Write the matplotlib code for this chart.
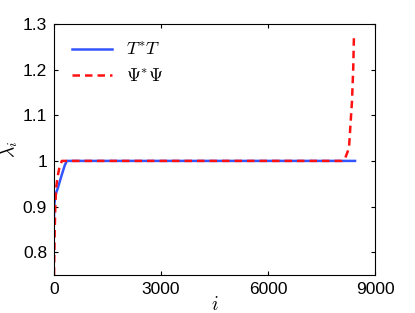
import numpy as np
import matplotlib
matplotlib.use('Agg')
import matplotlib.pyplot as plt

plt.rcParams['font.family'] = ['Liberation Sans', 'DejaVu Sans']
plt.rcParams['mathtext.fontset'] = 'cm'

# T*T eigenvalues (blue)
t_idx = [0, 10, 30, 60, 110, 200, 300, 360, 1000, 4000, 8440]
t_val = [0.879, 0.905, 0.92, 0.93, 0.941, 0.965, 0.99, 1.0, 1.0, 1.0, 1.0]

# Psi*Psi eigenvalues (red)
p_idx = [0, 10, 20, 40, 60, 100, 150, 220, 1000, 4000, 8075, 8160, 8270, 8355, 8390, 8411]
p_val = [0.75, 0.80, 0.85, 0.91, 0.94, 0.965, 0.985, 1.0, 1.0, 1.0, 1.0, 1.005, 1.028, 1.131, 1.204, 1.278]

fig = plt.figure(figsize=(4.15, 3.13), dpi=100)
ax = fig.add_axes([54/415, 38/313, 321/415, 251/313])

ax.plot(t_idx, t_val, color='#3355ff', linewidth=1.8, label=r'$T^{*}T$')
ax.plot(p_idx, p_val, color='#ff1111', linewidth=1.8, linestyle=(0, (3, 2)), label=r'$\Psi^{*}\Psi$')

ax.set_xlim(0, 9000)
ax.set_ylim(0.75, 1.3)
ax.set_xticks([0, 3000, 6000, 9000])
ax.set_yticks([0.8, 0.9, 1.0, 1.1, 1.2, 1.3])
ax.set_yticklabels(['0.8', '0.9', '1', '1.1', '1.2', '1.3'])
ax.tick_params(direction='in', top=True, right=True, labelsize=12.5, length=3, pad=5)

ax.set_xlabel(r'$i$', fontsize=14)
ax.set_ylabel(r'$\lambda_i$', fontsize=14)
ax.xaxis.set_label_coords(0.5, -0.085)
ax.yaxis.set_label_coords(-0.105, 0.5)

ax.legend(loc='upper left', frameon=False, fontsize=13, handlelength=2.2, borderaxespad=0.6)

plt.savefig('out.png', dpi=100)
